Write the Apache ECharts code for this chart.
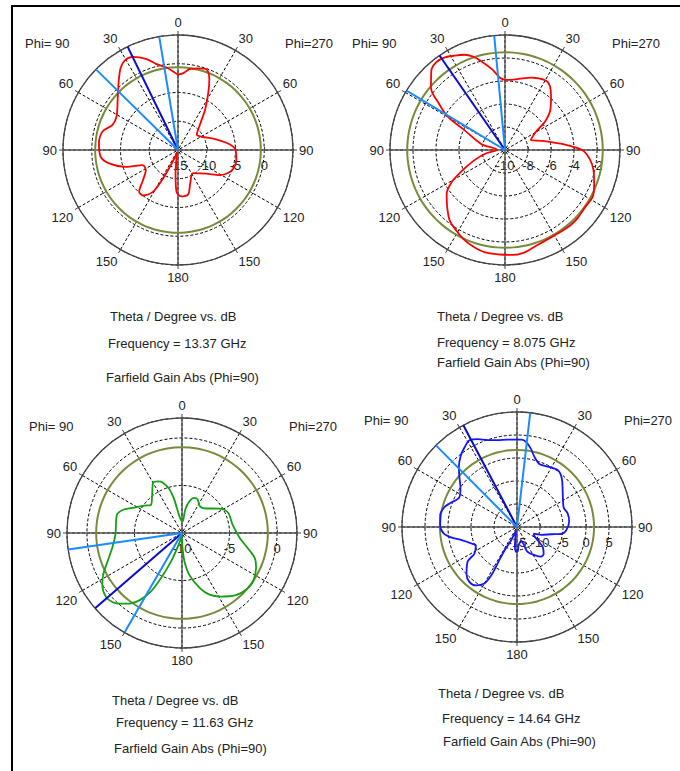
<!DOCTYPE html>
<html>
<head>
<meta charset="utf-8">
<script src="https://cdn.jsdelivr.net/npm/echarts@6/dist/echarts.min.js"></script>
<style>
  html, body { margin: 0; padding: 0; background: #fff; }
  #main { width: 680px; height: 771px; }
</style>
</head>
<body>
<div id="main"></div>
<script>
// theta in degrees, counted from top, positive toward the Phi=90 side (0..360)
var theta1 = [0,8,14,19,26,31,35,40,50,61, 69,76,85,95,101,108,113,122,131,137, 142,149,152,155,162,170,174,178,184,193, 200,213,230,239,249,260,270,276,285,302, 309,319,326,332,336,340,345,352,356,360];
var gain1  = [-1.9,-0.5,0.4,1.7,3.0,3.1,2.4,1.0,-1.3,-2.8, -2.8,-1.5,-1.2,-1.5,-2.8,-5.5,-8.3,-8.4,-6.9,-5.1, -5.0,-6.5,-9.1,-12.4,-14.6,-13.5,-10.9,-7.7,-6.9,-7.1, -8.8,-10.2,-8.6,-6.5,-5.0,-4.7,-5.0,-5.9,-8.0,-10.5, -10.8,-9.2,-6.6,-3.8,-1.6,-0.2,-0.3,-0.8,-1.6,-1.9];

var theta2 = [0,4,9,15,19,23,28,33,38,43, 50,55,60,64,76,88,101,109,116,121, 127,135,142,149,155,162,169,177,184,191, 198,206,214,221,227,234,242,249,257,264, 270,276,284,291,295,301,305,311,319,325, 330,340,349,357,360];
var gain2  = [-3.9,-3.7,-2.9,-2.0,-1.4,-1.0,-0.7,-0.4,-0.3,-0.6, -1.6,-3.0,-4.3,-6.1,-7.9,-9.3,-8.2,-7.1,-5.8,-4.6, -3.65,-2.9,-2.2,-1.8,-1.45,-1.15,-0.93,-0.9,-0.85,-0.93, -1.24,-1.4,-1.4,-1.33,-1.34,-1.44,-1.36,-1.7,-2.1,-2.6, -3.3,-5.0,-6.7,-7.6,-7.4,-6.8,-5.8,-4.8,-3.9,-3.2, -3.0,-3.3,-3.7,-3.9,-3.9];

var theta3 = [0,9,13,16,21,25,30,38,48,54, 62,68,74,83,91,102,111,118,123,130, 135,139,144,148,152,155,159,165,172,182, 185,190,198,204,211,221,229,236,245,251, 257,265,279,294,303,318,327,335,341,347, 352,357,360];
var gain3  = [-8.8,-8.2,-6.4,-5.2,-4.3,-4.0,-3.9,-4.9,-5.6,-5.1, -4.3,-3.4,-2.9,-3.0,-3.0,-2.5,-1.6,-0.6,0.0,0.45, 0.3,-0.15,-0.85,-1.7,-3.0,-4.75,-6.8,-8.9,-9.7,-8.4, -7.0,-5.5,-3.9,-2.9,-2.2,-1.35,-0.97,-0.96,-1.4,-1.9, -2.9,-3.9,-4.6,-4.7,-5.3,-6.5,-6.6,-6.1,-6.1,-6.6, -7.5,-8.8,-8.8];

var theta4 = [0,6,13,19,24,29,33,38,44,49, 55,63,71,75,81,89,95,99,103,111, 114,122,125,133,139,145,150,152,152,152, 156,165,174,178,182,185,198,201,203,212, 219,225,232,236,242,248,252,258,261,266, 276,285,293,306,317,324,332,340,346,350, 354,357,360];
var gain4  = [4.0,4.1,4.4,5.0,5.9,6.5,5.8,4.8,3.2,1.6, 0.0,-0.9,0.6,1.4,1.9,1.7,1.0,-0.5,-2.5,-4.7, -5.2,-4.1,-1.9,0.0,0.8,0.5,-0.8,-3.1,-6.0,-9.2, -11.8,-14.2,-10.6,-9.6,-9.8,-11.0,-11.8,-11.0,-9.1,-7.8, -6.7,-6.8,-7.9,-9.2,-10.7,-11.1,-9.5,-7.4,-5.3,-4.3, -3.6,-3.6,-4.0,-2.7,-0.7,0.2,-0.2,-0.5,0.7,2.3, 3.6,4.0,4.0];

// radial scale of each plot (dB)
var rMin = [-15, -10, -10, -15];
var rMax = [5, 0, 2.1, 10];
var rStep = [5, 2, 5, 5];
// olive reference circle (dB)
var refLevel = [-0.6, -1.5, -0.97, 1.75];
// main lobe direction and 3 dB beam edges (theta, deg)
var mainDir = [26, 34.7, 130.9, 27.8];
var beamDir = [[9.4, 45.5], [5.4, 58.9], [98.2, 150], [353.4, 44.8]];

var freqs = ['13.37', '8.075', '11.63', '14.64'];
var curveColor = ['#ff0000', '#ff0000', '#14a014', '#1414ff'];

var thetas = [theta1, theta2, theta3, theta4];
var gains = [gain1, gain2, gain3, gain4];

// layout
var centers = [[178, 150], [505, 150], [182, 533], [517, 527]];
var R = 115;
var titlePos = [
  [[110, 316], [108, 343], [106, 377]],
  [[437, 316], [437, 342], [437, 362]],
  [[112, 700], [116, 722], [114, 748]],
  [[438, 693], [442, 718], [443, 741]]
];
var FONT = '"Liberation Sans", Arial, sans-serif';
var TXT = '#222';

// theta (0..360 ccw from top) -> angle axis value (-90..270)
function ang(t) { return t > 270 ? t - 360 : t; }

var polar = [], angleAxis = [], radiusAxis = [], series = [], graphic = [];

for (var i = 0; i < 4; i++) {
  polar.push({ center: centers[i], radius: R });
  angleAxis.push({
    polarIndex: i, type: 'value', min: -90, max: 270, interval: 30,
    startAngle: 0, clockwise: false,
    axisLine: { lineStyle: { color: '#444', width: 1.3 } },
    axisTick: { show: true, length: 4, lineStyle: { color: '#444' } },
    axisLabel: {
      margin: 6, color: TXT, fontSize: 13, fontFamily: FONT, showMaxLabel: false,
      formatter: function (v) { return v < 0 ? -v : (v <= 180 ? v : 360 - v); }
    },
    splitLine: { show: true, lineStyle: { color: '#000', width: 1, type: [3, 2] } }
  });
  (function (step) {
    radiusAxis.push({
      polarIndex: i, type: 'value', min: rMin[i], max: rMax[i], interval: step,
      axisLine: { show: false },
      axisTick: { show: true, length: 3, lineStyle: { color: '#444' } },
      axisLabel: {
        margin: -22, color: TXT, fontSize: 13, fontFamily: FONT, showMaxLabel: false,
        formatter: function (v) { return (Math.abs(v / step - Math.round(v / step)) < 1e-6) ? v : ''; }
      },
      splitLine: { show: true, lineStyle: { color: '#000', width: 1, type: [3, 2] } }
    });
  })(rStep[i]);

  // solid main axes
  series.push({
    type: 'line', coordinateSystem: 'polar', polarIndex: i, symbol: 'none', silent: true,
    lineStyle: { color: '#555', width: 1.4 }, z: 3,
    data: [[rMax[i], 90], [rMax[i], -90]]
  });
  series.push({
    type: 'line', coordinateSystem: 'polar', polarIndex: i, symbol: 'none', silent: true,
    lineStyle: { color: '#555', width: 1.4 }, z: 3,
    data: [[rMax[i], 0], [rMax[i], 180]]
  });

  // reference circle
  var ring = [];
  for (var a = -90; a <= 270; a += 5) ring.push([refLevel[i], a]);
  series.push({
    type: 'line', coordinateSystem: 'polar', polarIndex: i, symbol: 'none', silent: true,
    smooth: true, lineStyle: { color: '#768c3a', width: 2 }, z: 4, data: ring
  });

  // pattern
  var pts = [];
  for (var k = 0; k < thetas[i].length; k++) pts.push([gains[i][k], ang(thetas[i][k])]);
  series.push({
    type: 'line', coordinateSystem: 'polar', polarIndex: i, symbol: 'none', silent: true,
    smooth: 0.3, lineStyle: { color: curveColor[i], width: 1.8 }, z: 5, data: pts
  });

  // beam lines
  series.push({
    type: 'line', coordinateSystem: 'polar', polarIndex: i, symbol: 'none', silent: true,
    lineStyle: { color: '#0a0ad0', width: 2 }, z: 6,
    data: [[rMin[i], ang(mainDir[i])], [rMax[i], ang(mainDir[i])]]
  });
  for (var b = 0; b < 2; b++) {
    series.push({
      type: 'line', coordinateSystem: 'polar', polarIndex: i, symbol: 'none', silent: true,
      lineStyle: { color: '#1a8cff', width: 2 }, z: 6,
      data: [[rMin[i], ang(beamDir[i][b])], [rMax[i], ang(beamDir[i][b])]]
    });
  }

  // phi labels
  graphic.push({ type: 'text', x: centers[i][0] - 153, y: centers[i][1] - 107,
    style: { text: 'Phi= 90', font: '13px ' + FONT, fill: TXT, verticalAlign: 'middle' } });
  graphic.push({ type: 'text', x: centers[i][0] + 107, y: centers[i][1] - 107,
    style: { text: 'Phi=270', font: '13px ' + FONT, fill: TXT, verticalAlign: 'middle' } });

  // captions
  var lines = ['Theta / Degree vs. dB', 'Frequency = ' + freqs[i] + ' GHz', 'Farfield Gain Abs (Phi=90)'];
  for (var t = 0; t < 3; t++) {
    graphic.push({ type: 'text', x: titlePos[i][t][0], y: titlePos[i][t][1],
      style: { text: lines[t], font: '13px ' + FONT, fill: TXT, verticalAlign: 'middle' } });
  }
}

// frame
graphic.push({ type: 'line', shape: { x1: 11, y1: 6, x2: 680, y2: 6 }, style: { stroke: '#000', lineWidth: 2 } });
graphic.push({ type: 'line', shape: { x1: 12, y1: 5, x2: 12, y2: 771 }, style: { stroke: '#000', lineWidth: 2 } });

var myChart = echarts.init(document.getElementById('main'), null, { renderer: 'svg' });
myChart.setOption({
  animation: false,
  polar: polar,
  angleAxis: angleAxis,
  radiusAxis: radiusAxis,
  series: series,
  graphic: graphic
});
</script>
</body>
</html>
